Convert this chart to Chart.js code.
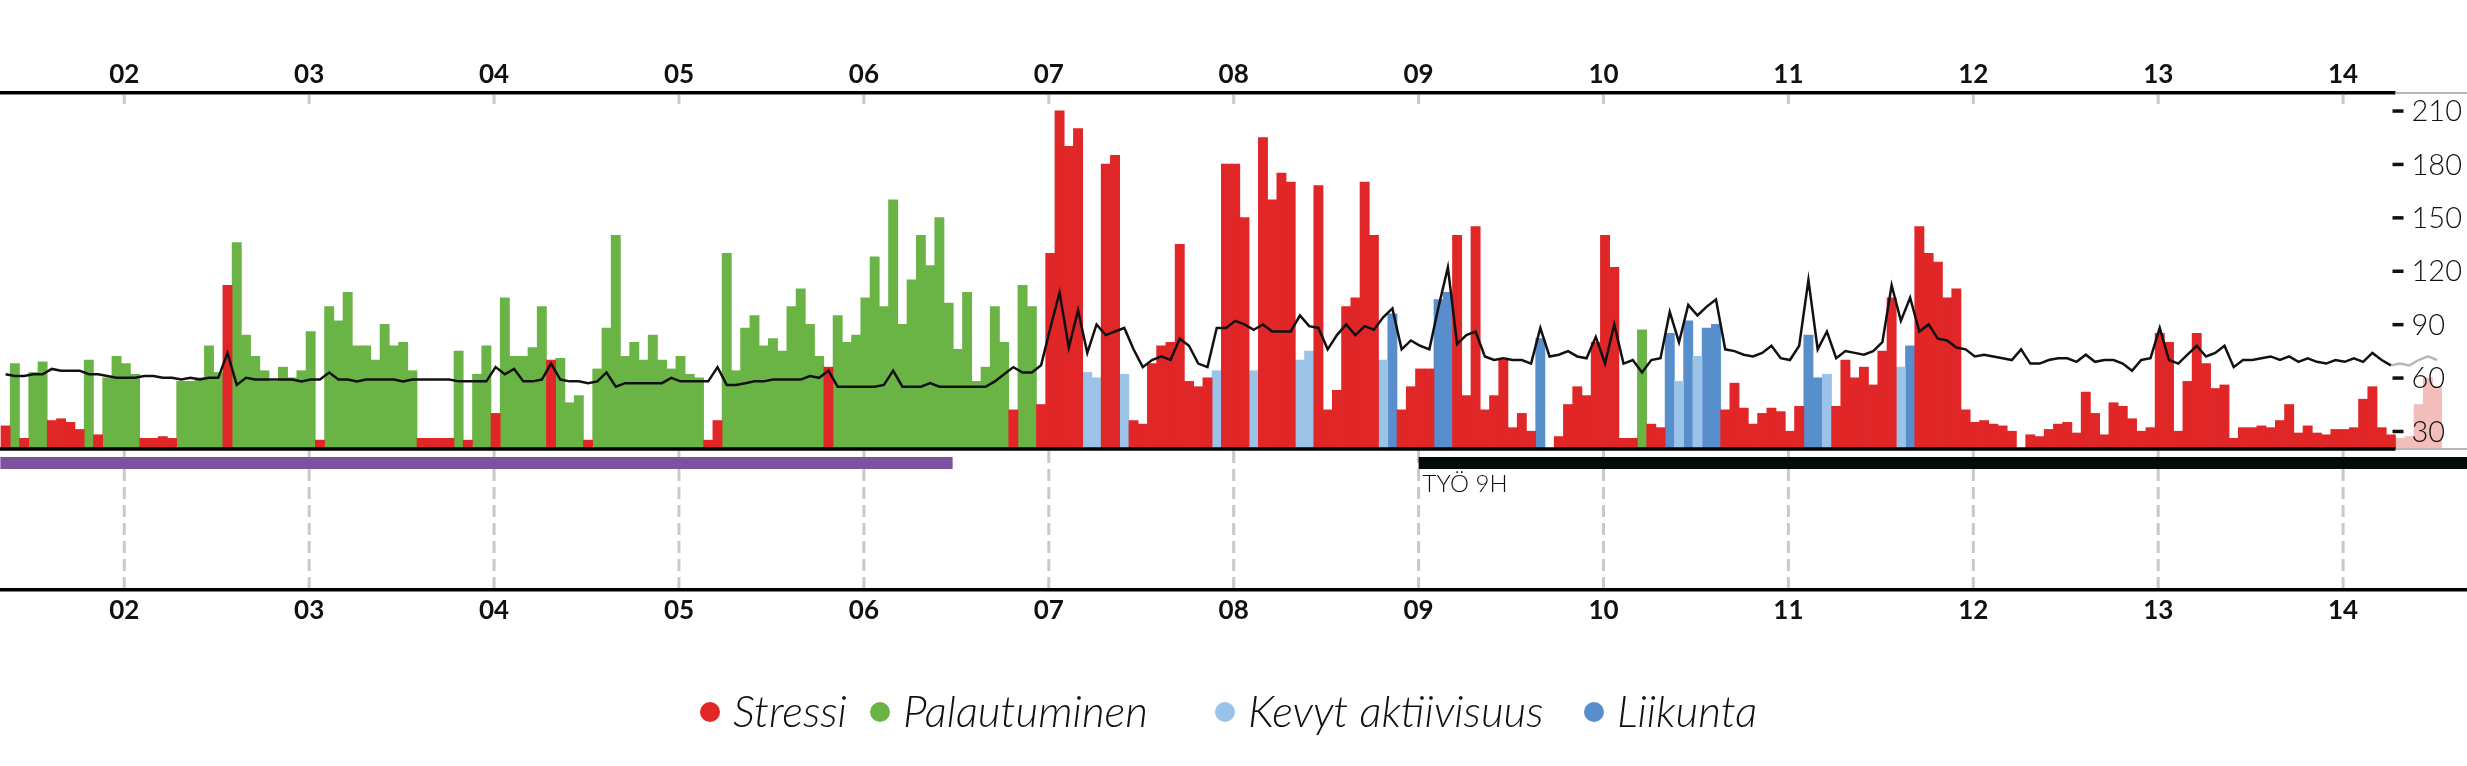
<!DOCTYPE html>
<html lang="fi">
<head>
<meta charset="utf-8">
<title>Stressi ja palautuminen</title>
<script src="https://cdn.jsdelivr.net/npm/chart.js@4.4.1/dist/chart.umd.min.js"></script>
<style>
  html, body { margin: 0; padding: 0; background: #fff; }
  #wrap { position: relative; width: 2467px; height: 766px; overflow: hidden; }
  #chart { position: absolute; left: 0; top: 0; }
  .legendItem {
    position: absolute; top: 684px;
    font-family: Lato, sans-serif; font-style: italic; font-weight: 300;
    font-size: 44px; line-height: 52px; color: #111; white-space: nowrap;
  }
  .legendItem .dot {
    position: absolute; left: -33px; top: 18px;
    width: 20px; height: 20px; border-radius: 50%;
  }
</style>
</head>
<body>
<div id="wrap">
  <canvas id="chart" width="2467" height="766"></canvas>
  <div id="legend"></div>
</div>
<script>
// 3 minute slots starting 01:20
const startMinute = 80;
const slotMinutes = 3;
const liveSlots = 259; // slots after this are not synced yet (faded)

const hourTicks = [2, 3, 4, 5, 6, 7, 8, 9, 10, 11, 12, 13, 14];
const hrTicks = [30, 60, 90, 120, 150, 180, 210];

const sleepBand = [1.33, 6.48];
const workBand = [9, 18];
const workLabel = "TYÖ 9H";

const phaseNames = {
  S: "Stressi",
  R: "Palautuminen",
  L: "Kevyt aktiivisuus",
  E: "Liikunta"
};

// S = stressi, R = palautuminen, L = kevyt aktiivisuus, E = liikunta, - = ei dataa
const phaseCodes = (
  "SRSRRSSSSRSRRRRSSSSR" +
  "RRRRSRRRRRRRRRSRRRRR" +
  "RRRRRSSSSRSRRSRRRRRS" +
  "RRRSRRRRRRRRRRRRSSRR" +
  "RRRRRRRRRSRRRRRRRRRR" +
  "RRRRRRRRRSRRSSSSSLLS" +
  "SLSSSSSSSSSLSSSLSSSS" +
  "LLSSSSSSSLESSSSEESSS" +
  "SSSSSSE-SSSSSSSSSRSS" +
  "ELELEESSSSSSSSSEELSS" +
  "SSSSSLESSSSSSSSSSS-S" +
  "SSSSSSSSSSSSSSSSSSSS" +
  "SSSSSSSSSSSSSSSSSSS" +
  "SSSSS").split("");

const phaseLevels = [
  33, 68, 26, 63, 69, 36, 37, 35, 31, 70, 28, 60, 72, 68, 62, 26, 26, 27, 26, 58,
  58, 60, 78, 63, 112, 136, 84, 72, 64, 58, 66, 60, 64, 86, 25, 100, 92, 108, 78, 78,
  70, 90, 78, 80, 64, 26, 26, 26, 26, 75, 25, 62, 78, 40, 105, 72, 72, 77, 100, 70,
  71, 46, 50, 25, 65, 88, 140, 72, 80, 70, 84, 70, 65, 72, 62, 60, 25, 36, 130, 64,
  88, 95, 78, 82, 75, 100, 110, 90, 72, 66, 95, 80, 84, 105, 128, 100, 160, 90, 115, 140,
  123, 150, 102, 76, 108, 58, 66, 100, 80, 42, 112, 100, 45, 130, 210, 190, 200, 63, 60, 180,
  185, 62, 36, 34, 68, 78, 80, 135, 58, 55, 60, 64, 180, 180, 150, 64, 195, 160, 175, 170,
  70, 75, 168, 42, 53, 100, 105, 170, 140, 70, 96, 42, 55, 65, 65, 104, 108, 140, 50, 145,
  42, 50, 70, 32, 40, 30, 82, null, 27, 45, 55, 50, 80, 140, 122, 26, 26, 87, 34, 32,
  85, 58, 92, 72, 88, 90, 42, 57, 43, 34, 40, 43, 41, 30, 44, 84, 60, 62, 44, 70,
  60, 66, 56, 75, 105, 66, 78, 145, 130, 125, 105, 110, 42, 35, 36, 34, 33, 30, null, 28,
  27, 31, 34, 35, 29, 52, 40, 28, 46, 44, 37, 30, 32, 85, 80, 30, 58, 85, 68, 54,
  56, 26, 32, 32, 33, 32, 36, 45, 29, 33, 29, 28, 31, 31, 32, 48, 55, 32, 28,
  26, 27, 45, 60, 55
];

const heartRate = [
  62, 61, 61, 62, 62, 65, 64, 64, 64, 62, 62, 61, 60, 60, 60, 61, 61, 60, 60, 59,
  60, 59, 60, 60, 74, 56, 60, 59, 59, 59, 59, 59, 58, 59, 59, 63, 59, 59, 58, 59,
  59, 59, 59, 58, 59, 59, 59, 59, 59, 58, 58, 58, 58, 66, 62, 65, 58, 58, 59, 68,
  59, 58, 58, 57, 58, 63, 55, 57, 57, 57, 57, 57, 60, 58, 58, 58, 58, 66, 56, 56,
  57, 58, 58, 59, 59, 59, 59, 61, 60, 64, 55, 55, 55, 55, 55, 56, 64, 55, 55, 55,
  57, 55, 55, 55, 55, 55, 55, 58, 62, 66, 63, 63, 67, 88, 108, 77, 98, 74, 90, 84,
  86, 88, 76, 66, 70, 72, 70, 82, 78, 68, 66, 88, 88, 92, 90, 87, 90, 86, 86, 86,
  95, 89, 88, 76, 84, 90, 84, 89, 87, 94, 99, 76, 81, 78, 76, 100, 122, 79, 84, 86,
  72, 70, 71, 70, 70, 68, 88, 72, 73, 75, 72, 71, 83, 68, 90, 68, 70, 63, 70, 71,
  97, 80, 101, 95, 100, 104, 76, 75, 73, 72, 74, 78, 71, 70, 78, 115, 76, 86, 71, 75,
  74, 73, 75, 80, 112, 92, 105, 86, 90, 82, 81, 77, 76, 72, 73, 72, 71, 70, 76, 68,
  68, 70, 71, 71, 69, 73, 69, 70, 70, 68, 64, 70, 71, 88, 70, 68, 73, 78, 72, 74,
  78, 66, 70, 70, 71, 72, 70, 72, 69, 71, 69, 68, 70, 69, 71, 69, 74, 70, 67,
  68, 67, 70, 72, 70
];

// colours
const phaseColors = {
  S: "#e02627",
  R: "#6ab446",
  L: "#9bc3e8",
  E: "#588ecc"
};
const fadedStress = "#f3bdbb";
const fadedLine = "#b7b7b7";
const sleepColor = "#7b52a0";
const workColor = "#050a0c";

// layout of the picture
const axisStart = 1.328;
const axisEnd = 14.67;
const barBase = 20;
const bandLevel = 12.1;
const syncHour = (startMinute + liveSlots * slotMinutes) / 60;

function slotHour(i){
  return (startMinute + slotMinutes * (i + 0.5)) / 60;
}

function phasePoints(code, from, to){
  let pts = [];
  for(let i = from; i < to; i++){
    if(phaseCodes[i] === code && phaseLevels[i] !== null){
      pts.push({x: slotHour(i), y: phaseLevels[i]});
    }
  }
  return pts;
}

function hrPoints(from, to){
  let pts = [];
  for(let i = from; i < to; i++){
    pts.push({x: slotHour(i), y: heartRate[i]});
  }
  return pts;
}

function barSet(label, data, color){
  return {
    type: "bar",
    label: label,
    data: data,
    backgroundColor: color,
    borderWidth: 0,
    grouped: false,
    base: barBase,
    barPercentage: 1,
    categoryPercentage: 1,
    order: 6
  };
}

function lineSet(label, data, color, width, order){
  return {
    type: "line",
    label: label,
    data: data,
    borderColor: color,
    borderWidth: width,
    borderCapStyle: "butt",
    pointRadius: 0,
    fill: false,
    tension: 0,
    order: order
  };
}

let datasets = [];
["S", "R", "L", "E"].forEach(function(code){
  datasets.push(barSet(phaseNames[code], phasePoints(code, 0, liveSlots), phaseColors[code]));
});
datasets.push(barSet("Stressi (ei synkattu)", phasePoints("S", liveSlots, phaseCodes.length), fadedStress));

// sleep and work bands under the bars
datasets.push(lineSet("Uni", [{x: sleepBand[0], y: bandLevel}, {x: sleepBand[1], y: bandLevel}], sleepColor, 12, 5));
datasets.push(lineSet(workLabel, [{x: workBand[0], y: bandLevel}, {x: workBand[1], y: bandLevel}], workColor, 12, 5));

// base line of the bars
datasets.push(lineSet("pohja", [{x: axisStart, y: barBase}, {x: syncHour, y: barBase}], "#000", 3.5, 4));
datasets.push(lineSet("pohja2", [{x: syncHour, y: barBase}, {x: axisEnd, y: barBase}], fadedLine, 2, 4));

// heart rate
datasets.push(lineSet("Syke", hrPoints(0, liveSlots), "#111", 2.5, 2));
datasets.push(lineSet("Syke2", hrPoints(liveSlots - 1, heartRate.length), fadedLine, 2.5, 3));

function hourLabel(v){
  return String(v).padStart(2, "0");
}

function xAxis(position, height, padding){
  return {
    type: "linear",
    position: position,
    min: axisStart,
    max: axisEnd,
    offset: false,
    grid: {display: false, drawTicks: false, offset: false},
    border: {display: true, color: "#000", width: 3.5},
    ticks: {
      color: "#111",
      padding: padding,
      maxRotation: 0,
      autoSkip: false,
      font: {family: "Lato", weight: "bold", size: 26},
      callback: hourLabel
    },
    afterBuildTicks: function(scale){
      scale.ticks = hourTicks.map(function(h){ return {value: h}; });
    },
    afterFit: function(scale){
      scale.height = height;
    }
  };
}

// grid marks, right axis and other extras
const decorations = {
  id: "decorations",
  beforeDatasetsDraw(chart){
    const {ctx, chartArea, scales} = chart;
    const base = scales.y.getPixelForValue(barBase);
    ctx.save();
    ctx.strokeStyle = "#c9c9c9";
    ctx.lineWidth = 3;
    hourTicks.forEach(function(h){
      let px = scales.x.getPixelForValue(h);
      ctx.setLineDash([]);
      ctx.beginPath();
      ctx.moveTo(px, chartArea.top + 2);
      ctx.lineTo(px, chartArea.top + 11);
      ctx.stroke();
      ctx.setLineDash([12, 6]);
      ctx.beginPath();
      ctx.moveTo(px, base + 2);
      ctx.lineTo(px, chartArea.bottom - 2);
      ctx.stroke();
    });
    ctx.restore();
  },
  afterDraw(chart){
    const {ctx, chartArea, scales} = chart;
    const syncPx = scales.x.getPixelForValue(syncHour);
    ctx.save();

    // unsynced part of the top line is grey
    ctx.fillStyle = "#fff";
    ctx.fillRect(syncPx, chartArea.top - 3, chart.width - syncPx, 6);
    ctx.strokeStyle = fadedLine;
    ctx.lineWidth = 2;
    ctx.beginPath();
    ctx.moveTo(syncPx, chartArea.top);
    ctx.lineTo(chart.width, chartArea.top);
    ctx.stroke();

    // heart rate axis
    ctx.fillStyle = "#111";
    ctx.font = "300 29px Lato";
    ctx.textAlign = "left";
    ctx.textBaseline = "middle";
    hrTicks.forEach(function(v){
      let py = scales.y.getPixelForValue(v);
      ctx.fillRect(syncPx - 3, py - 1.5, 11, 3.5);
      ctx.fillText(String(v), syncPx + 16, py + 1);
    });

    // work label
    const workPx = scales.x.getPixelForValue(workBand[0]);
    ctx.font = "300 24px Lato";
    ctx.textBaseline = "alphabetic";
    ctx.fillText(workLabel, workPx + 4, scales.y.getPixelForValue(bandLevel) + 29);
    ctx.restore();
  }
};

new Chart(document.getElementById("chart"), {
  type: "bar",
  data: {datasets: datasets},
  options: {
    responsive: false,
    animation: false,
    devicePixelRatio: 1,
    events: [],
    layout: {padding: {top: 0, right: 0, bottom: 136, left: 0}},
    scales: {
      x: xAxis("top", 93, 3),
      x2: xAxis("bottom", 40, 5),
      y: {
        type: "linear",
        display: false,
        min: -59.2,
        max: 220
      }
    },
    plugins: {
      legend: {display: false},
      tooltip: {enabled: false}
    }
  },
  plugins: [decorations]
});

// legend
const legendLeft = [733, 903, 1248, 1617];
const legend = document.getElementById("legend");
["S", "R", "L", "E"].forEach(function(code, i){
  let item = document.createElement("div");
  item.className = "legendItem";
  item.style.left = legendLeft[i] + "px";
  item.innerHTML = '<span class="dot" style="background:' + phaseColors[code] + '"></span>' + phaseNames[code];
  legend.appendChild(item);
});
</script>
</body>
</html>
